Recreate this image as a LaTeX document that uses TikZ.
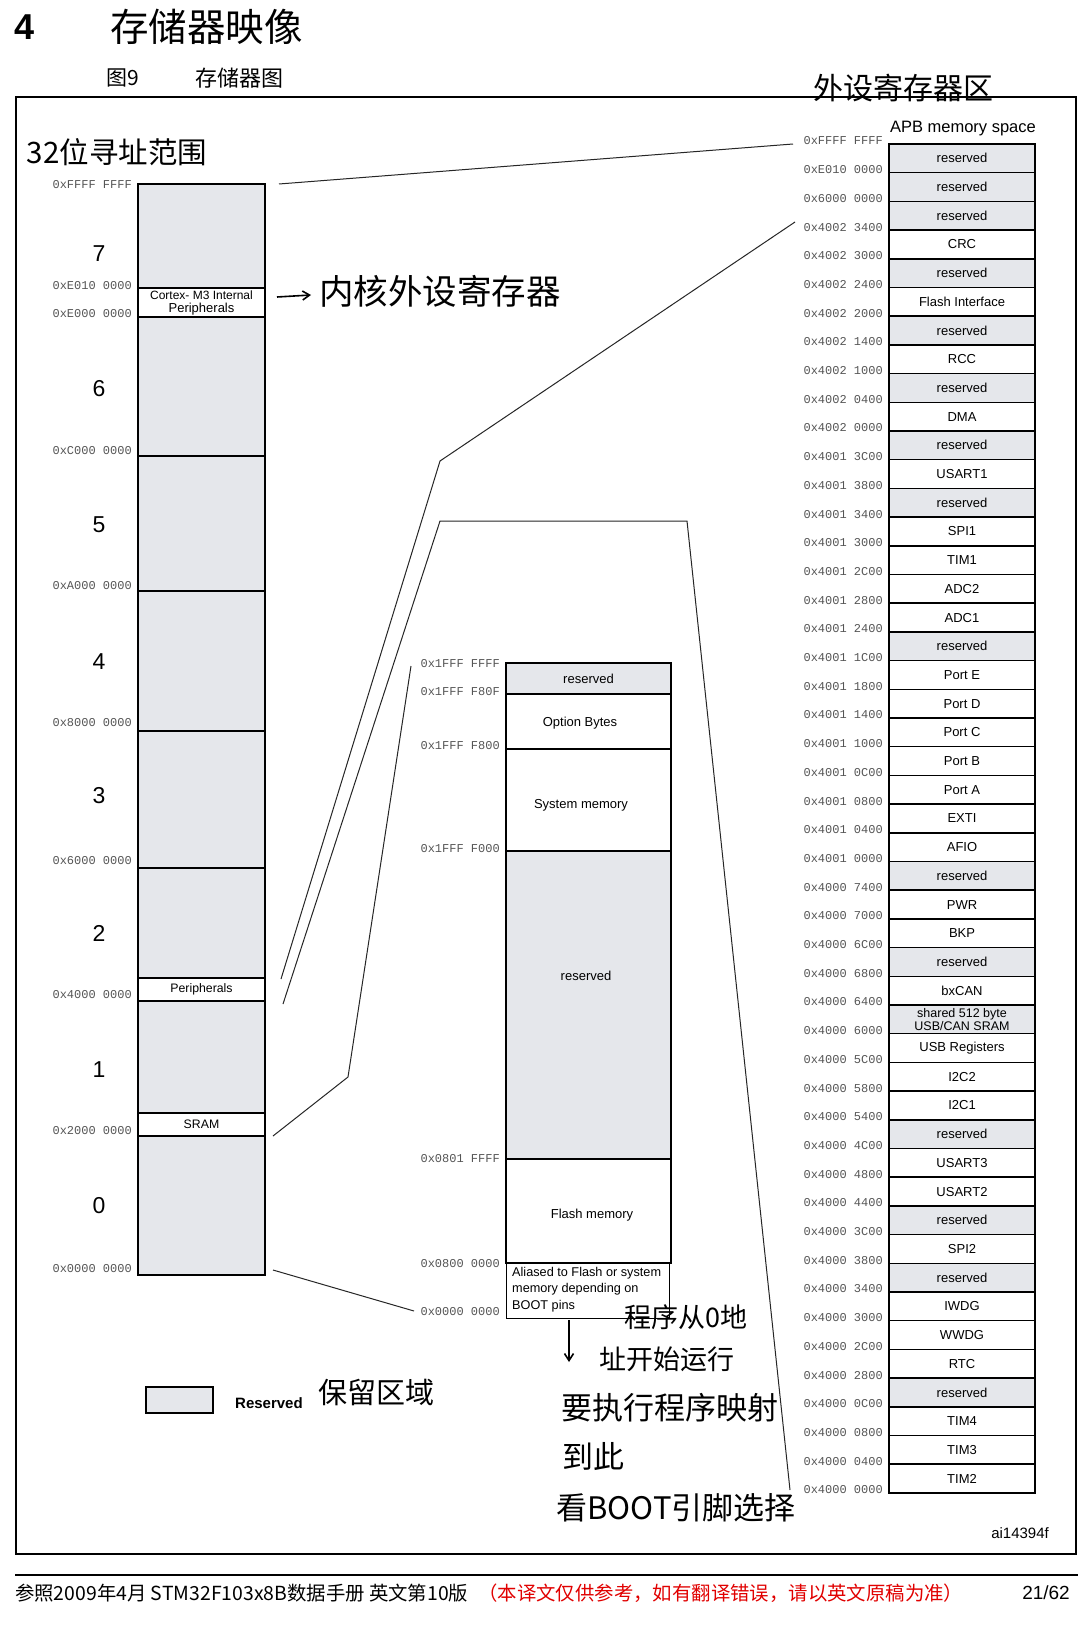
\documentclass[tikz,border=0pt]{standalone}
\usepackage{fontspec}
\setmainfont{Liberation Sans}
\newfontfamily\cjk{Noto Sans CJK SC}
\newfontfamily\monof{Liberation Mono}
\usetikzlibrary{arrows.meta}
\definecolor{resgray}{RGB}{229,231,235}
\definecolor{addrgray}{RGB}{85,85,85}
\definecolor{footred}{RGB}{225,0,0}
\newcommand\usbsram{{\fontsize{12.5}{12.5}\selectfont shared 512 byte}\\{\fontsize{12.5}{12.5}\selectfont USB/CAN SRAM}}
\newcommand\mb[7]{\node[mblk, fill=#6, minimum width=#3pt, minimum height={#5-#4}] (#1) at (#2,{(#4+#5)/2}) {#7};}
\begin{document}
\begin{tikzpicture}[x=1pt,y=-1pt,
  mblk/.style={draw=black, line width=1.5pt, inner sep=0pt, outer sep=0pt, align=center, font=\fontsize{13}{13}\selectfont},
  mtxt/.style={inner sep=0pt, font=\fontsize{13}{13}\selectfont},
  addr/.style={font=\monof\fontsize{12}{12}\selectfont, text=addrgray, anchor=east, inner sep=0pt},
  hand/.style={font=\cjk\fontsize{30}{32}\selectfont, inner sep=0pt},
  zl/.style={line width=1pt, black!85},
  seg/.style={font=\fontsize{23}{23}\selectfont, inner sep=0pt},
  harrow/.style={line width=1.6pt, -{Straight Barb[length=7pt,width=9pt]}}]
\fill[white] (0,0) rectangle (1080,1632);
\useasboundingbox (0,0) rectangle (1080,1632);

% title
\node[font=\bfseries\fontsize{36}{36}\selectfont, anchor=west, inner sep=0pt] (tnum) at (14,27) {4};
\node[font=\cjk\fontsize{38.5}{38.5}\selectfont, anchor=west, inner sep=0pt] (ttl) at (110,27) {存储器映像};
\node[font=\cjk\fontsize{21}{21}\selectfont, anchor=west, inner sep=0pt] (fig) at (106,78) {图9};
\node[font=\cjk\fontsize{22}{22}\selectfont, anchor=west, inner sep=0pt] (figt) at (195,78) {存储器图};

% frame
\draw[line width=1.3pt] (16,97) rectangle (1076,1554);

% left column
\mb{L7}{201.5}{127}{184}{288}{resgray}{}
\mb{LC}{201.5}{127}{288}{317}{white}{\fontsize{12}{13}\selectfont Cortex- M3 Internal\\Peripherals}
\mb{L6}{201.5}{127}{317}{456}{resgray}{}
\mb{L5}{201.5}{127}{456}{591}{resgray}{}
\mb{L4}{201.5}{127}{591}{731}{resgray}{}
\mb{L3}{201.5}{127}{731}{868}{resgray}{}
\mb{L2}{201.5}{127}{868}{978}{resgray}{}
\mb{LP}{201.5}{127}{978}{1001}{white}{\fontsize{12.3}{13}\selectfont Peripherals}
\mb{L1}{201.5}{127}{1001}{1113}{resgray}{}
\mb{LS}{201.5}{127}{1113}{1136}{white}{\fontsize{12.3}{13}\selectfont SRAM}
\mb{L0}{201.5}{127}{1136}{1275}{resgray}{}

\foreach \d/\y in {7/254,6/389,5/525,4/662,3/796,2/933,1/1070,0/1206}
  \node[seg] (n\d) at (99,\y) {\d};

\node[addr] (la0) at (132,185) {0xFFFF FFFF};
\node[addr] (la1) at (132,286) {0xE010 0000};
\node[addr] (la2) at (132,314) {0xE000 0000};
\node[addr] (la3) at (132,451) {0xC000 0000};
\node[addr] (la4) at (132,586) {0xA000 0000};
\node[addr] (la5) at (132,723) {0x8000 0000};
\node[addr] (la6) at (132,861) {0x6000 0000};
\node[addr] (la7) at (132,995) {0x4000 0000};
\node[addr] (la8) at (132,1131) {0x2000 0000};
\node[addr] (la9) at (132,1269) {0x0000 0000};

% middle column
\mb{M1}{588.5}{165}{663}{694}{resgray}{reserved}
\mb{M2}{588.5}{165}{694}{749}{white}{}
\mb{M3}{588.5}{165}{749}{851}{white}{}
\mb{M4}{588.5}{165}{851}{1159}{resgray}{}
\mb{M5}{588.5}{165}{1159}{1263}{white}{}
\node[mtxt] (M2t) at (580,723) {Option Bytes};
\node[mtxt] (M3t) at (581,805) {System memory};
\node[mtxt] (M4t) at (586,976) {reserved};
\node[mtxt] (M5t) at (592,1215) {Flash memory};
\node[draw=black, line width=1pt, fill=white, inner sep=0pt, minimum width=163pt, minimum height=55pt] (M6) at (587.5,1290.5) {};
\node[anchor=north west, align=left, inner sep=0pt, font=\fontsize{12.7}{16.5}\selectfont] (M6t) at (512,1267) {Aliased to Flash or system\\memory depending on\\BOOT pins};

\node[addr] (ma0) at (500,664) {0x1FFF FFFF};
\node[addr] (ma1) at (500,692) {0x1FFF F80F};
\node[addr] (ma2) at (500,746) {0x1FFF F800};
\node[addr] (ma3) at (500,849) {0x1FFF F000};
\node[addr] (ma4) at (500,1159) {0x0801 FFFF};
\node[addr] (ma5) at (500,1264) {0x0800 0000};
\node[addr] (ma6) at (500,1312) {0x0000 0000};

% APB column
\node[anchor=east, inner sep=0pt, font=\fontsize{16.5}{16.5}\selectfont] (apb) at (1036,129) {APB memory space};
\foreach \lab/\c [count=\i from 0] in {reserved/resgray,reserved/resgray,reserved/resgray,CRC/white,reserved/resgray,Flash Interface/white,reserved/resgray,RCC/white,reserved/resgray,DMA/white,reserved/resgray,USART1/white,reserved/resgray,SPI1/white,TIM1/white,ADC2/white,ADC1/white,reserved/resgray,Port E/white,Port D/white,Port C/white,Port B/white,Port A/white,EXTI/white,AFIO/white,reserved/resgray,PWR/white,BKP/white,reserved/resgray,bxCAN/white,\usbsram/resgray,USB Registers/white,I2C2/white,I2C1/white,reserved/resgray,USART3/white,USART2/white,reserved/resgray,SPI2/white,reserved/resgray,IWDG/white,WWDG/white,RTC/white,reserved/resgray,TIM4/white,TIM3/white,TIM2/white}
  \node[mblk, fill=\c, minimum width=146pt, minimum height=28.7pt] (A\i) at (962,{144+(\i+0.5)*28.7}) {\lab};
\foreach \a [count=\i from 0] in {0xFFFF FFFF,0xE010 0000,0x6000 0000,0x4002 3400,0x4002 3000,0x4002 2400,0x4002 2000,0x4002 1400,0x4002 1000,0x4002 0400,0x4002 0000,0x4001 3C00,0x4001 3800,0x4001 3400,0x4001 3000,0x4001 2C00,0x4001 2800,0x4001 2400,0x4001 1C00,0x4001 1800,0x4001 1400,0x4001 1000,0x4001 0C00,0x4001 0800,0x4001 0400,0x4001 0000,0x4000 7400,0x4000 7000,0x4000 6C00,0x4000 6800,0x4000 6400,0x4000 6000,0x4000 5C00,0x4000 5800,0x4000 5400,0x4000 4C00,0x4000 4800,0x4000 4400,0x4000 3C00,0x4000 3800,0x4000 3400,0x4000 3000,0x4000 2C00,0x4000 2800,0x4000 0C00,0x4000 0800,0x4000 0400,0x4000 0000}
  \node[addr] (aa\i) at (883,{144+\i*28.7-3}) {\a};

% zoom connectors
\coordinate (c1a) at (279,184);  \coordinate (c1b) at (793,144);
\coordinate (c2a) at (281,979);  \coordinate (c2k) at (440,461); \coordinate (c2b) at (795,222);
\coordinate (c3a) at (283,1004); \coordinate (c3k) at (440,521); \coordinate (c3m) at (687,521); \coordinate (c3b) at (790,1490);
\coordinate (c4a) at (273,1136); \coordinate (c4k) at (348,1077); \coordinate (c4b) at (411,666);
\coordinate (c5a) at (273,1270); \coordinate (c5b) at (414,1311);
\draw[zl] (c1a) -- (c1b);
\draw[zl] (c2a) -- (c2k) -- (c2b);
\draw[zl] (c3a) -- (c3k) -- (c3m) -- (c3b);
\draw[zl] (c4a) -- (c4k) -- (c4b);
\draw[zl] (c5a) -- (c5b);

% legend
\node[draw=black, line width=1.5pt, fill=resgray, minimum width=67pt, minimum height=26pt, inner sep=0pt] (leg) at (179.5,1400) {};
\node[anchor=west, inner sep=0pt, font=\bfseries\fontsize{15}{15}\selectfont] (legt) at (235,1403) {Reserved};
\node[anchor=east, inner sep=0pt, font=\fontsize{15}{15}\selectfont] (ai) at (1049,1533) {ai14394f};

% handwritten notes
\node[hand, font=\cjk\fontsize{29.5}{32}\selectfont] (h1) at (117,152) {32位寻址范围};
\coordinate (ar1a) at (277,297); \coordinate (ar1b) at (311,295);
\draw[harrow] (ar1a) -- (ar1b);
\node[hand, font=\cjk\fontsize{34.5}{36}\selectfont] (h2) at (440,291) {内核外设寄存器};
\node[hand] (h3) at (903,88) {外设寄存器区};
\node[hand, font=\cjk\fontsize{29}{30}\selectfont] (h4) at (376,1392) {保留区域};
\coordinate (ar2a) at (569,1320); \coordinate (ar2b) at (569,1362);
\draw[harrow] (ar2a) -- (ar2b);
\node[hand, font=\cjk\fontsize{27}{28}\selectfont] (h5) at (686,1317) {程序从0地};
\node[hand, font=\cjk\fontsize{27}{28}\selectfont] (h6) at (667,1359) {址开始运行};
\node[hand, font=\cjk\fontsize{31}{32}\selectfont] (h7) at (670,1408) {要执行程序映射};
\node[hand, font=\cjk\fontsize{31}{32}\selectfont] (h8) at (593,1457) {到此};
\node[hand, font=\cjk\fontsize{31}{32}\selectfont] (h9) at (676,1508) {看BOOT引脚选择};

% footer
\coordinate (fl1) at (15,1575); \coordinate (fl2) at (1078,1575);
\draw[line width=1.5pt] (fl1) -- (fl2);
\node[anchor=west, inner sep=0pt, font=\cjk\fontsize{19.4}{19.4}\selectfont] (f1) at (15,1593) {参照2009年4月 STM32F103x8B数据手册 英文第10版};
\node[anchor=west, inner sep=0pt, text=footred, font=\cjk\fontsize{19.4}{19.4}\selectfont] (f2) at (478,1593) {（本译文仅供参考，如有翻译错误，请以英文原稿为准）};
\node[anchor=east, inner sep=0pt, font=\fontsize{19}{19}\selectfont] (f3) at (1070,1593) {21/62};
\end{tikzpicture}
\end{document}
